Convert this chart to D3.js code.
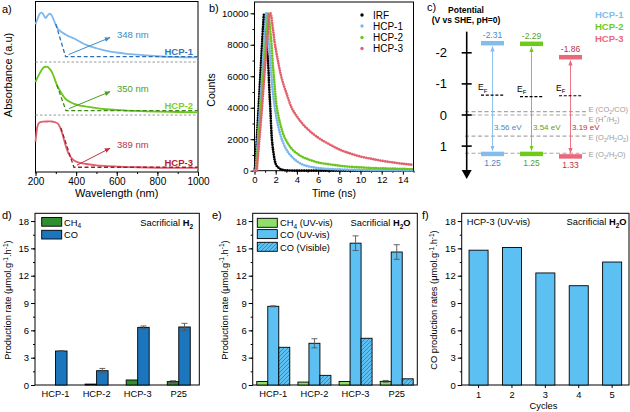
<!DOCTYPE html>
<html><head><meta charset="utf-8">
<script src="https://cdn.jsdelivr.net/npm/d3@7"></script>
<style>body{margin:0;background:#fff} svg{font-family:"Liberation Sans",Arial,sans-serif}</style>
</head><body><svg id="c" width="630" height="412"></svg>
<script>
// ---------------- DATA ----------------
// (a) UV-vis absorbance (stacked, arbitrary units)
const wavelengths = [200,210,220,230,240,250,260,270,280,290,300,310,320,330,340,350,360,375,390,410,430,450,500,550,600,650,700,800,900,1000];
const absHCP1 = [8.69,9.0,9.29,9.38,9.24,9.06,9.21,9.31,9.21,8.94,8.65,8.42,8.31,8.22,8.14,8.07,8.01,7.93,7.85,7.72,7.59,7.48,7.28,7.13,7.03,6.95,6.90,6.81,6.76,6.74];
const absHCP2 = [5.29,5.56,5.79,6.0,6.15,6.19,6.18,6.06,5.90,5.62,5.29,5.0,4.79,4.59,4.41,4.28,4.19,4.09,4.01,3.94,3.89,3.85,3.76,3.69,3.65,3.61,3.59,3.55,3.53,3.51];
const absHCP3 = [1.78,2.71,2.91,2.95,2.96,2.97,2.97,2.98,2.97,2.95,2.91,2.84,2.65,2.32,1.91,1.50,1.15,0.85,0.68,0.57,0.51,0.47,0.39,0.35,0.32,0.29,0.28,0.25,0.24,0.24];
const edgeNames = ["HCP-1","HCP-2","HCP-3"];
const edgeWl = [348,350,389];
const edgeLabels = ["348 nm","350 nm","389 nm"];
const tangentStartWl = [300,305,325];
const tangentStartAbs = [8.7,5.12,2.59];
const edgeBaseAbs = [6.79,3.61,0.28];
const separatorAbs = [6.47,3.35];
const aXTicks = [200,400,600,800,1000];

// (b) TRPL decay
const trplTime = [0,0.1,0.2,0.3,0.4,0.5,0.6,0.7,0.8,0.9,1.0,1.1,1.2,1.3,1.4,1.5,1.6,1.7,1.8,1.9,2.0,2.25,2.5,2.75,3,3.5,4,4.5,5,6,7,8,9,10,11,12,13,14,15];
const countsIRF  = [0,600,1800,3000,4200,5450,6650,7900,9100,9950,9000,8350,7600,6700,5100,3860,2400,1600,1100,680,430,200,90,40,20,10,0,0,0,0,0,0,0,0,0,0,0,0,0];
const countsHCP1 = [0,0,900,1900,2900,3900,4900,5900,7000,8000,9100,10000,9500,8800,7900,7000,6000,5200,4600,4100,3650,2800,2150,1700,1350,900,600,400,290,170,110,80,60,45,35,30,25,20,15];
const countsHCP2 = [0,0,400,1300,2200,3100,4000,4900,5800,6700,7600,8400,9200,10000,9500,8800,8100,7000,6200,5400,4600,3500,2800,2250,1900,1400,1100,880,740,520,410,320,250,210,170,150,130,115,100];
const countsHCP3 = [0,0,0,700,1500,2300,3100,3900,4800,5700,6600,7500,8300,9100,9900,10000,9780,9200,8700,8150,7750,6850,6050,5450,4950,4000,3450,3000,2650,2100,1700,1350,1100,900,760,630,530,440,370];
const trplNames = ["IRF","HCP-1","HCP-2","HCP-3"];
const bXTicks = [0,2,4,6,8,10,12,14];
const bYTicks = [0,2000,4000,6000,8000,10000];

// (c) band structure
const bandNames = ["HCP-1","HCP-2","HCP-3"];
const cbPotential = [-2.31,-2.29,-1.86];
const vbPotential = [1.25,1.25,1.33];
const fermiPotential = [-0.64,-0.59,-0.62];
const gapLabels = ["3.56 eV","3.54 eV","3.19 eV"];
const refPotential = [-0.11,0,0.68,1.23];
const refLabels = [["E (CO","2","/CO)"],["E (H","+","/H","2",")"],["E (O","2","/H","2","O","2",")"],["E (O","2","/H","2","O)"]];
const cTicks = [-2,-1,0,1];

// (d) sacrificial H2
const catNames = ["HCP-1","HCP-2","HCP-3","P25"];
const dCH4 = [0,0.1,0.55,0.37];
const dCH4Err = [0,0,0,0.1];
const dCO = [3.73,1.57,6.33,6.37];
const dCOErr = [0.05,0.25,0.15,0.4];
// (e) sacrificial H2O
const eCH4 = [0.38,0.32,0.38,0.4];
const eCH4Err = [0,0,0,0.1];
const eCOuv = [8.64,4.58,15.57,14.6];
const eCOuvErr = [0.05,0.5,0.8,0.8];
const eCOvis = [4.14,1.06,5.13,0.68];
// (f) cycles
const cycles = ["1","2","3","4","5"];
const fCO = [14.8,15.1,12.3,10.9,13.5];
const barYTicks = [0,3,6,9,12,15,18];

// ---------------- DRAW ----------------
const svg = d3.select("#c");
const defs = svg.append("defs");
const FONT = '"Liberation Sans",Arial,sans-serif';
const fmtD = d => String(d);

function marker(id, color, both) {
  const m = defs.append("marker").attr("id", id).attr("viewBox","0 0 10 10")
    .attr("refX",9).attr("refY",5).attr("markerWidth",6).attr("markerHeight",6)
    .attr("orient", both ? "auto-start-reverse" : "auto");
  m.append("path").attr("d","M0,1 L10,5 L0,9 z").attr("fill",color);
  return `url(#${id})`;
}
const pat = defs.append("pattern").attr("id","hatch").attr("patternUnits","userSpaceOnUse").attr("width",4).attr("height",4);
pat.append("rect").attr("width",4).attr("height",4).attr("fill","#5cc0f3");
pat.append("path").attr("d","M-1,1 l2,-2 M0,4 l4,-4 M3,5 l2,-2").attr("stroke","#2b6fb3").attr("stroke-width",0.7);

function styleAxis(sel, fs) {
  sel.attr("font-family", FONT).attr("font-size", fs);
  sel.select(".domain").remove();
  sel.selectAll("line").attr("stroke","#000");
  sel.selectAll("text").attr("fill","#000");
}
function frame(x0,x1,y0,y1){
  svg.append("rect").attr("x",x0).attr("y",y0).attr("width",x1-x0).attr("height",y1-y0)
    .attr("fill","none").attr("stroke","#000").attr("stroke-width",1);
}
function text(x,y,s,opt={}) {
  const t = svg.append("text").attr("x",x).attr("y",y).text(s)
    .attr("font-size",opt.fs||10).attr("fill",opt.fill||"#000")
    .attr("text-anchor",opt.anchor||"start").attr("font-weight",opt.bold?"bold":"normal");
  if (opt.rot) t.attr("transform",`rotate(-90,${x},${y})`);
  return t;
}
function richText(x,y,parts,opt={}) {
  const t = svg.append("text").attr("x",x).attr("y",y).attr("font-size",opt.fs||10)
    .attr("fill",opt.fill||"#000").attr("text-anchor",opt.anchor||"start");
  if (opt.rot) t.attr("transform",`rotate(-90,${x},${y})`);
  let shift = 0;
  parts.forEach(p => {
    const [s, kind, bold] = p;
    let target = kind==="sub" ? 2.5 : kind==="sup" ? -3.5 : 0;
    const ts = t.append("tspan").text(s).attr("dy", target - shift);
    shift = target;
    if (kind) ts.attr("font-size",(opt.fs||10)*0.7);
    if (bold) ts.attr("font-weight","bold");
  });
  return t;
}

// ===== Panel a =====
{
  const x = d3.scaleLinear().domain([200,1000]).range([35.5,198]);
  const y = d3.scaleLinear().domain([0,10]).range([172,2]);
  frame(35.5,198,1.5,172);
  const minor = d3.range(200,1001,100);
  svg.append("g").attr("transform","translate(0,172)").call(d3.axisBottom(x).tickValues(minor).tickSize(2).tickFormat("")).call(s=>styleAxis(s,9.5));
  svg.append("g").attr("transform","translate(0,172)").call(d3.axisBottom(x).tickValues(aXTicks).tickSize(4).tickPadding(2).tickFormat(fmtD)).call(s=>styleAxis(s,10));
  text(116.7,197,"Wavelength (nm)",{fs:11,anchor:"middle"});
  text(12,75,"Absorbance (a.u)",{fs:11,anchor:"middle",rot:true});
  text(2,13,"a)",{fs:11});
  separatorAbs.forEach(v => svg.append("line").attr("x1",35.5).attr("x2",198).attr("y1",y(v)).attr("y2",y(v))
    .attr("stroke","#999").attr("stroke-dasharray","2.5,2").attr("stroke-width",1));
  const curveCol = ["#7db9ee","#6cc51c","#e2606e"];
  const dashCol = ["#2c70b3","#3d8a16","#9e1f2a"];
  const arrowCol = ["#3b8ccb","#4c9c22","#c0323f"];
  const labCol = ["#3a8cc9","#4e9e24","#c0323f"];
  const nameCol = ["#3577b8","#7dcf2a","#b3202f"];
  const series = [absHCP1, absHCP2, absHCP3];
  const line = d3.line().x((d,i)=>x(wavelengths[i])).y(d=>y(d)).curve(d3.curveMonotoneX);
  series.forEach((s,k) => {
    svg.append("path").attr("d", line(s)).attr("fill","none").attr("stroke",curveCol[k]).attr("stroke-width",1.8);
    const pts = [[tangentStartWl[k],tangentStartAbs[k]],[edgeWl[k],edgeBaseAbs[k]],[1000,edgeBaseAbs[k]]];
    svg.append("path").attr("d", d3.line().x(d=>x(d[0])).y(d=>y(d[1]))(pts)).attr("fill","none")
      .attr("stroke",dashCol[k]).attr("stroke-width",1.3).attr("stroke-dasharray","4,2.5");
    const mk = marker("ma"+k, arrowCol[k]);
    const ax0 = x(edgeWl[k]) + 3, ay0 = y(edgeBaseAbs[k]) - 2;
    svg.append("line").attr("x1",ax0).attr("y1",ay0).attr("x2",110).attr("y2",y(edgeBaseAbs[k]) - 19)
      .attr("stroke",arrowCol[k]).attr("stroke-width",1).attr("marker-end",mk);
    text(117, y(edgeBaseAbs[k]) - 19, edgeLabels[k], {fs:9.5, fill:labCol[k]});
    text(193, y(edgeBaseAbs[k]) - 1.5, edgeNames[k], {fs:9.5, fill:nameCol[k], bold:true, anchor:"end"});
  });
}

// ===== Panel b =====
{
  const x = d3.scaleLinear().domain([0,15]).range([254.5,413.5]);
  const y = d3.scaleLinear().domain([0,10000]).range([170.7,13.3]);
  frame(254.5,413.5,2,170.7);
  svg.append("g").attr("transform","translate(0,170.7)").call(d3.axisBottom(x).tickValues(d3.range(0,16,1)).tickSize(2).tickFormat("")).call(s=>styleAxis(s,10));
  svg.append("g").attr("transform","translate(0,170.7)").call(d3.axisBottom(x).tickValues(bXTicks).tickSize(4).tickPadding(2).tickFormat(fmtD)).call(s=>styleAxis(s,9.5));
  svg.append("g").attr("transform","translate(254.5,0)").call(d3.axisLeft(y).tickValues(d3.range(0,10001,1000)).tickSize(2).tickFormat("")).call(s=>styleAxis(s,10));
  svg.append("g").attr("transform","translate(254.5,0)").call(d3.axisLeft(y).tickValues(bYTicks).tickSize(4).tickPadding(2).tickFormat(fmtD)).call(s=>styleAxis(s,9.5));
  text(334,197,"Time (ns)",{fs:10.5,anchor:"middle"});
  text(215,90,"Counts",{fs:10.5,anchor:"middle",rot:true});
  text(209,12,"b)",{fs:11});
  const cols = ["#000","#7ab8ee","#6cc51c","#e3616f"];
  const data = [countsIRF,countsHCP1,countsHCP2,countsHCP3];
  const line = d3.line().x((d,i)=>x(trplTime[i])).y(d=>y(d)).curve(d3.curveMonotoneX);
  data.forEach((s,k)=>{
    svg.append("path").attr("d",line(s)).attr("fill","none").attr("stroke",cols[k])
      .attr("stroke-width",2.7).attr("stroke-linecap","round").attr("stroke-dasharray","0,2.4");
  });
  const ly = [15,26,37.5,48.5];
  trplNames.forEach((n,k)=>{
    svg.append("circle").attr("cx",362).attr("cy",ly[k]).attr("r",1.7).attr("fill",cols[k]);
    text(373, ly[k]+3.5, n, {fs:10});
  });
}

// ===== Panel c =====
{
  const y = d3.scaleLinear().domain([0,1]).range([115,146.1]);
  const x = d3.scaleBand().domain(bandNames).range([473,590]);
  const bw = 23;
  const fillCol = ["#82bdee","#6ecb1a","#e9697b"];
  const txtCol = ["#4b88c6","#5a9f1f","#bb3240"];
  const axX = 466.7;
  text(427,11,"c)",{fs:11});
  text(466,13,"Potential",{fs:8.5,bold:true,anchor:"middle"});
  text(466,23,"(V vs SHE, pH=0)",{fs:8.5,bold:true,anchor:"middle"});
  refPotential.forEach((v,i)=>{
    svg.append("line").attr("x1",465).attr("x2",586).attr("y1",y(v)).attr("y2",y(v))
      .attr("stroke","#a8a8a8").attr("stroke-width",1.2).attr("stroke-dasharray","4,2.5");
    const off = i===0 ? -3 : i===1 ? 3.5 : 0.5;
    const parts = refLabels[i].map((s,j)=>[s, j%2===1 ? (i===1 && j===1 ? "sup" : "sub") : null]);
    richText(588.5, y(v)+off+3, parts, {fs:7.5, fill:"#9a9a9a"});
  });
  svg.append("line").attr("x1",axX).attr("x2",axX).attr("y1",y(-2.68)).attr("y2",172).attr("stroke","#000").attr("stroke-width",1.6);
  svg.append("path").attr("d",`M${axX-5},170 L${axX+5},170 L${axX},179 z`).attr("fill","#000");
  cTicks.forEach(t=>{
    svg.append("line").attr("x1",axX-5).attr("x2",axX+5).attr("y1",y(t)).attr("y2",y(t)).attr("stroke","#000").attr("stroke-width",1.6);
    text(447, y(t)+4.5, String(t), {fs:13, anchor:"end"});
  });
  bandNames.forEach((n,k)=>{
    const cx = x(n) + x.bandwidth()/2;
    svg.append("rect").attr("x",cx-bw/2).attr("y",y(cbPotential[k])-2.2).attr("width",bw).attr("height",4.5).attr("fill",fillCol[k]);
    svg.append("rect").attr("x",cx-bw/2).attr("y",y(vbPotential[k])-2.2).attr("width",bw).attr("height",4.5).attr("fill",fillCol[k]);
    text(cx, y(cbPotential[k])-5, cbPotential[k].toFixed(2), {fs:8.5, fill:txtCol[k], anchor:"middle"});
    text(cx, y(vbPotential[k])+12, vbPotential[k].toFixed(2), {fs:8.5, fill:txtCol[k], anchor:"middle"});
    const mk = marker("mc"+k, fillCol[k], true);
    svg.append("line").attr("x1",cx).attr("x2",cx).attr("y1",y(cbPotential[k])+3.5).attr("y2",y(vbPotential[k])-3.5)
      .attr("stroke",fillCol[k]).attr("stroke-width",0.9).attr("marker-start",mk).attr("marker-end",mk);
    text(cx+1.5, y(0)+15, gapLabels[k], {fs:8, fill:txtCol[k]});
    svg.append("line").attr("x1",cx-bw/2).attr("x2",cx+bw/2).attr("y1",y(fermiPotential[k])).attr("y2",y(fermiPotential[k]))
      .attr("stroke","#000").attr("stroke-width",1.1).attr("stroke-dasharray","3,1.8");
    richText(cx-bw/2-3, y(fermiPotential[k])-5, [["E",null],["F","sub"]], {fs:8.5});
    text(595, 18 + k*12, n, {fs:9.5, bold:true, fill:fillCol[k]});
  });
}

// ===== Bar panels =====
function barFrame(x0,x1,yScale,title,letter,lx){
  frame(x0,x1,213.3,385);
  svg.append("g").attr("transform",`translate(${x0},0)`).call(d3.axisLeft(yScale).tickValues(d3.range(0,19,1.5)).tickSize(2).tickFormat("")).call(s=>styleAxis(s,9));
  svg.append("g").attr("transform",`translate(${x0},0)`).call(d3.axisLeft(yScale).tickValues(barYTicks).tickSize(4).tickPadding(2).tickFormat(fmtD)).call(s=>styleAxis(s,9.5));
  richText(lx, 300, title, {fs:9.3, anchor:"middle", rot:true});
  text(letter[1], 219, letter[0], {fs:11});
}
const ylab = [["Production rate (μmol.g",null],["-1","sup"],[".h",null],["-1","sup"],[")",null]];
function errBar(cx, v, e, ys){
  if (!e) return;
  const g = svg.append("g").attr("stroke","#555").attr("stroke-width",0.9);
  g.append("line").attr("x1",cx).attr("x2",cx).attr("y1",ys(v-e)).attr("y2",ys(v+e));
  g.append("line").attr("x1",cx-3).attr("x2",cx+3).attr("y1",ys(v+e)).attr("y2",ys(v+e));
  g.append("line").attr("x1",cx-3).attr("x2",cx+3).attr("y1",ys(v-e)).attr("y2",ys(v-e));
}
function bar(x0, w, v, ys, fill){
  svg.append("rect").attr("x",x0).attr("y",ys(v)).attr("width",w).attr("height",ys(0)-ys(v))
    .attr("fill",fill).attr("stroke","#000").attr("stroke-width",0.9);
}
const ys = d3.scaleLinear().domain([0,18.85]).range([385,213.3]);

// Panel d
{
  const x = d3.scaleBand().domain(catNames).range([35,199.3]);
  barFrame(35,199.3,ys,ylab,["d)",2],11);
  const inner = d3.scaleBand().domain(["CH4","CO"]).range([-11.5,11.5]);
  catNames.forEach((c,i)=>{
    const cx = x(c)+x.bandwidth()/2;
    if (dCH4[i]>0) { bar(cx+inner("CH4"), inner.bandwidth(), dCH4[i], ys, "#2f8f2e"); }
    errBar(cx+inner("CH4")+inner.bandwidth()/2, dCH4[i], dCH4Err[i], ys);
    bar(cx+inner("CO"), inner.bandwidth(), dCO[i], ys, "#1b76bd");
    errBar(cx+inner("CO")+inner.bandwidth()/2, dCO[i], dCOErr[i], ys);
    text(cx, 397, c, {fs:9.3, anchor:"middle"});
  });
  svg.append("rect").attr("x",41.7).attr("y",217.5).attr("width",20).attr("height",8.7).attr("fill","#2f8f2e").attr("stroke","#000").attr("stroke-width",0.9);
  svg.append("rect").attr("x",41.7).attr("y",230.3).attr("width",20).attr("height",8.7).attr("fill","#1b76bd").attr("stroke","#000").attr("stroke-width",0.9);
  richText(64,225.5,[["CH",null],["4","sub"]],{fs:9.3});
  text(64,238.3,"CO",{fs:9.3});
  richText(193,226,[["Sacrificial ",null],["H",null,true],["2","sub",true]],{fs:9.3,anchor:"end"});
}
// Panel e
{
  const x = d3.scaleBand().domain(catNames).range([252.7,417.3]);
  barFrame(252.7,417.3,ys,ylab,["e)",212],227.5);
  const inner = d3.scaleBand().domain(["CH4","COuv","COvis"]).range([-16.5,16.5]);
  const bwid = inner.bandwidth();
  catNames.forEach((c,i)=>{
    const cx = x(c)+x.bandwidth()/2;
    bar(cx+inner("CH4"), bwid, eCH4[i], ys, "#8fe06b");
    errBar(cx+inner("CH4")+bwid/2, eCH4[i], eCH4Err[i], ys);
    bar(cx+inner("COuv"), bwid, eCOuv[i], ys, "#5cc0f3");
    errBar(cx+inner("COuv")+bwid/2, eCOuv[i], eCOuvErr[i], ys);
    bar(cx+inner("COvis"), bwid, eCOvis[i], ys, "url(#hatch)");
    text(cx, 397, c, {fs:9.3, anchor:"middle"});
  });
  const lf = ["#8fe06b","#5cc0f3","url(#hatch)"];
  const lyy = [218.3,229.6,242.3];
  lf.forEach((f,k)=>svg.append("rect").attr("x",257.3).attr("y",lyy[k]).attr("width",20).attr("height",9).attr("fill",f).attr("stroke","#000").attr("stroke-width",0.9));
  richText(280,226,[["CH",null],["4","sub"],[" (UV-vis)",null]],{fs:9.3});
  text(280,237.8,"CO (UV-vis)",{fs:9.3});
  text(280,250.5,"CO (Visible)",{fs:9.3});
  richText(410.5,226,[["Sacrificial ",null],["H",null,true],["2","sub",true],["O",null,true]],{fs:9.3,anchor:"end"});
}
// Panel f
{
  const x = d3.scaleBand().domain(cycles).range([461.7,629]).paddingInner(0.43).paddingOuter(0.22);
  frame(461.7,629,213.3,385);
  svg.append("g").attr("transform",`translate(461.7,0)`).call(d3.axisLeft(ys).tickValues(d3.range(0,19,1.5)).tickSize(2).tickFormat("")).call(s=>styleAxis(s,9));
  svg.append("g").attr("transform",`translate(461.7,0)`).call(d3.axisLeft(ys).tickValues(barYTicks).tickSize(4).tickPadding(2).tickFormat(fmtD)).call(s=>styleAxis(s,9.5));
  svg.append("g").attr("transform","translate(0,385)").call(d3.axisBottom(x).tickSize(3).tickPadding(3)).call(s=>styleAxis(s,9.3));
  cycles.forEach((c,i)=> bar(x(c), x.bandwidth(), fCO[i], ys, "#5cc0f3"));
  richText(437, 300, [["CO production rates (μmol.g",null],["-1","sup"],[".h",null],["-1","sup"],[")",null]], {fs:9.3, anchor:"middle", rot:true});
  text(422,219,"f)",{fs:11});
  text(543.5,409,"Cycles",{fs:9.3,anchor:"middle"});
  text(466.7,225,"HCP-3 (UV-vis)",{fs:9.3});
  richText(626.5,225,[["Sacrificial ",null],["H",null,true],["2","sub",true],["O",null,true]],{fs:9.3,anchor:"end"});
}
</script></body></html>
